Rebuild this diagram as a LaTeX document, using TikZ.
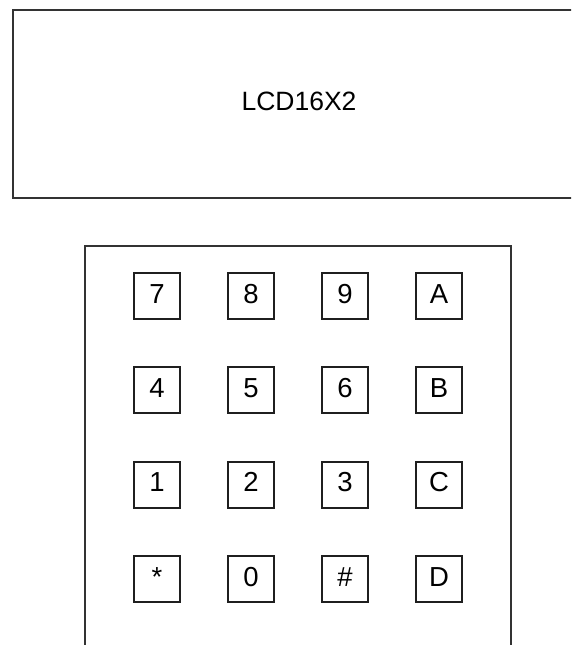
\documentclass[tikz,border=0pt]{standalone}
\usepackage{fontspec}
\setmainfont{Liberation Sans}
\begin{document}
\begin{tikzpicture}[x=1pt,y=-1pt,
  frame/.style={draw=black!80,line width=2pt,inner sep=0pt},
  key/.style={draw=black!88,line width=2pt,minimum width=46pt,minimum height=46pt,
    inner sep=0pt,font=\fontsize{27.5}{32}\selectfont,text height=20pt,text depth=5.3pt},
  lcdtext/.style={font=\fontsize{26.5}{32}\selectfont,text height=19pt,text depth=6pt}]
\useasboundingbox (0,0) rectangle (571,645);
\clip (0,0) rectangle (571,645);
\node[frame,lcdtext,minimum width=572pt,minimum height=188pt] (lcd) at (299,104) {LCD16X2};
\node[frame,minimum width=426pt,minimum height=460pt] (pad) at (298,476) {};
\foreach \lab/\i/\j/\nm in {7/0/0/k7,8/1/0/k8,9/2/0/k9,A/3/0/kA,
                            4/0/1/k4,5/1/1/k5,6/2/1/k6,B/3/1/kB,
                            1/0/2/k1,2/1/2/k2,3/2/2/k3,C/3/2/kC,
                            */0/3/kstar,0/1/3/k0,\#/2/3/khash,D/3/3/kD}
  \node[key] (\nm) at ({157+94*\i},{296+94.3*\j}) {\lab};
\end{tikzpicture}
\end{document}
